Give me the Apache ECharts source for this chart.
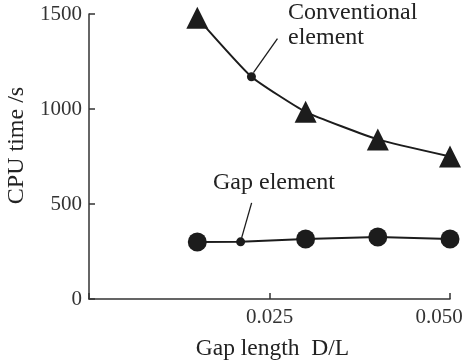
<!DOCTYPE html>
<html>
<head>
<meta charset="utf-8">
<script src="https://cdn.jsdelivr.net/npm/echarts@6/dist/echarts.min.js"></script>
<style>
  html, body { margin: 0; padding: 0; background: #fff; }
  #chart { width: 472px; height: 363px; }
</style>
</head>
<body>
<div id="chart"></div>
<script>
// values
const convX = [0.015, 0.0225, 0.030, 0.040, 0.050];
const convY = [1480, 1170, 985, 840, 750];
const convSize = [[22, 22], 9, [22, 22], [22, 22], [22, 22]];
const convSymbol = ["triangle", "circle", "triangle", "triangle", "triangle"];

const gapX = [0.015, 0.021, 0.030, 0.040, 0.050];
const gapY = [300, 301, 316, 326, 316];
const gapSize = [19, 9, 19, 19, 19];

const xTicks = [0.025, 0.050];
const yTicks = [0, 500, 1000, 1500];

const font = "'Liberation Serif', 'DejaVu Serif', serif";
const ink = "#1c1c1c";

function buildData(xs, ys, sizes, symbols) {
  return xs.map((x, i) => ({
    value: [x, ys[i]],
    symbol: symbols ? symbols[i] : "circle",
    symbolSize: sizes[i]
  }));
}

function xLabel(v) {
  const i = xTicks.findIndex((t) => Math.abs(t - v) < 1e-9);
  if (i < 0) return "";
  // last label sits a little left of its tick, as in the figure
  return i === xTicks.length - 1 ? "{last|" + v.toFixed(3) + "}" : v.toFixed(3);
}

const chart = echarts.init(document.getElementById("chart"));

const option = {
  animation: false,
  grid: { left: 89, top: 14, right: 22, bottom: 64, outerBoundsMode: "none" },
  xAxis: {
    type: "value",
    min: 0,
    max: 0.05,
    interval: 0.025,
    name: "Gap length  D/L",
    nameLocation: "middle",
    nameGap: 38,
    nameTextStyle: { fontFamily: font, fontSize: 23.5, color: "#222", padding: [0, 0, 0, 6] },
    axisLine: { lineStyle: { color: "#333", width: 1.5 } },
    axisTick: { inside: true, length: 6, lineStyle: { color: "#333", width: 1.5 } },
    axisLabel: {
      fontFamily: font,
      fontSize: 21,
      color: "#333",
      margin: 8,
      formatter: xLabel,
      rich: {
        last: { fontFamily: font, fontSize: 21, color: "#333", padding: [0, 22, 0, 0] }
      }
    },
    splitLine: { show: false }
  },
  yAxis: {
    type: "value",
    min: 0,
    max: 1500,
    interval: 500,
    name: "CPU time /s",
    nameLocation: "middle",
    nameGap: 44,
    nameTextStyle: { fontFamily: font, fontSize: 24, color: "#222", padding: [0, 0, 0, 22] },
    axisLine: { show: true, lineStyle: { color: "#333", width: 1.5 } },
    axisTick: { show: true, inside: true, length: 6, lineStyle: { color: "#333", width: 1.5 } },
    axisLabel: {
      fontFamily: font,
      fontSize: 21,
      color: "#333",
      margin: 7,
      formatter: (v) => (yTicks.includes(v) ? String(v) : "")
    },
    splitLine: { show: false }
  },
  series: [
    {
      name: "Conventional element",
      type: "line",
      data: buildData(convX, convY, convSize, convSymbol),
      smooth: 0.15,
      lineStyle: { color: ink, width: 2 },
      itemStyle: { color: ink }
    },
    {
      name: "Gap element",
      type: "line",
      data: buildData(gapX, gapY, gapSize),
      lineStyle: { color: ink, width: 2 },
      itemStyle: { color: ink }
    }
  ]
};

chart.setOption(option);

// annotations with leader lines anchored on the small dots
const convDot = chart.convertToPixel({ gridIndex: 0 }, [convX[1], convY[1]]);
const gapDot = chart.convertToPixel({ gridIndex: 0 }, [gapX[1], gapY[1]]);

chart.setOption({
  graphic: [
    {
      type: "line",
      shape: { x1: convDot[0] + 2, y1: convDot[1] - 4, x2: convDot[0] + 26, y2: convDot[1] - 38 },
      style: { stroke: ink, lineWidth: 1.3 }
    },
    {
      type: "text",
      left: 288,
      top: 0,
      style: {
        text: "Conventional\nelement",
        fontFamily: font,
        fontSize: 24,
        lineHeight: 25,
        fill: "#222"
      }
    },
    {
      type: "line",
      shape: { x1: gapDot[0] + 1, y1: gapDot[1] - 4, x2: gapDot[0] + 11, y2: gapDot[1] - 39 },
      style: { stroke: ink, lineWidth: 1.3 }
    },
    {
      type: "text",
      left: 213,
      top: 171,
      style: {
        text: "Gap element",
        fontFamily: font,
        fontSize: 24,
        fill: "#222"
      }
    }
  ]
});
</script>
</body>
</html>
